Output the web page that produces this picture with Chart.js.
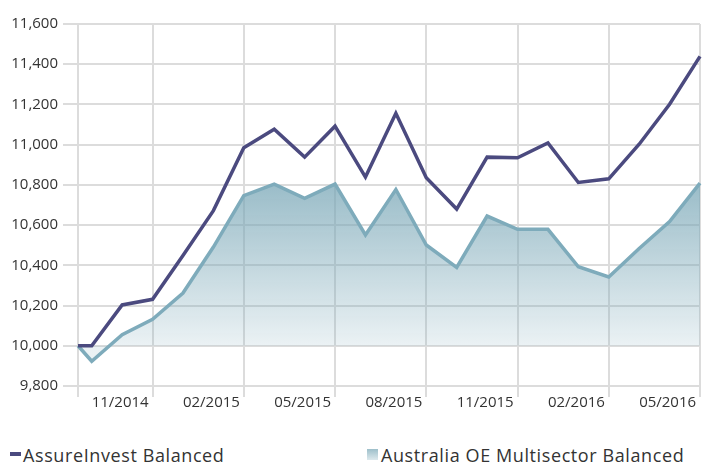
<!DOCTYPE html>
<html>
<head>
<meta charset="utf-8">
<script src="https://cdn.jsdelivr.net/npm/chart.js@4.4.1/dist/chart.umd.min.js"></script>
<style>
  body { margin: 0; background: #fff; font-family: 'Open Sans', sans-serif; }
  #wrap { position: relative; width: 702px; height: 463px; }
  #legend { position: absolute; left: 0; top: 443px; width: 702px; font-size: 18px; letter-spacing: 0.6px; color: #333; }
  .item { position: absolute; top: 0; display: flex; align-items: center; white-space: nowrap; }
  .dash { width: 11px; height: 4px; background: #4b4a7f; margin-right: 2px; margin-top: -3px; }
  .box { width: 11px; height: 11px; background: linear-gradient(#9dbfca, #dde9ed); margin-right: 3px; margin-top: -2px; }
</style>
</head>
<body>
<div id="wrap">
  <canvas id="chart" width="702" height="440"></canvas>
  <div id="legend">
    <div class="item" style="left:10px"><span class="dash"></span>AssureInvest Balanced</div>
    <div class="item" style="left:367px"><span class="box"></span>Australia OE Multisector Balanced</div>
  </div>
</div>
<script>
const dates = ['2014-08-17', '2014-08-31', '2014-09-30', '2014-10-31', '2014-11-30', '2014-12-31',
  '2015-01-31', '2015-02-28', '2015-03-31', '2015-04-30', '2015-05-31', '2015-06-30',
  '2015-07-31', '2015-08-31', '2015-09-30', '2015-10-31', '2015-11-30', '2015-12-31',
  '2016-01-31', '2016-02-29', '2016-03-31', '2016-04-30'];
const assureInvest = [10000, 10000, 10203, 10231, 10449, 10672, 10985, 11077, 10938, 11092, 10839,
  11156, 10836, 10680, 10938, 10935, 11009, 10812, 10830, 11002, 11201, 11439];
const multisector = [10000, 9923, 10055, 10132, 10262, 10491, 10747, 10804, 10733, 10804, 10551,
  10777, 10501, 10390, 10645, 10579, 10579, 10393, 10342, 10484, 10618, 10809];
const tickLabels = ['11/2014', '02/2015', '05/2015', '08/2015', '11/2015', '02/2016', '05/2016'];
const yMin = 9800, yMax = 11600, yStep = 200, baseline = 10000;

// months since Jan 2014, with day as a fraction of the month
function monthPos(d) {
  const [y, m, day] = d.split('-').map(Number);
  const dim = new Date(y, m, 0).getDate();
  return (y - 2014) * 12 + (m - 1) + day / dim;
}
function labelPos(l) {
  const [m, y] = l.split('/').map(Number);
  return (y - 2014) * 12 + (m - 1);
}

const xs = dates.map(monthPos);
const tickValues = tickLabels.map(labelPos);
const gridColor = '#dcdcdc';
const textColor = '#333';

const ctx = document.getElementById('chart').getContext('2d');
new Chart(ctx, {
  type: 'line',
  data: {
    datasets: [
      {
        label: 'AssureInvest Balanced',
        data: xs.map((x, i) => ({ x, y: assureInvest[i] })),
        borderColor: '#4b4a7f',
        borderWidth: 3.5,
        pointRadius: 0,
        fill: false,
        clip: false,
      },
      {
        label: 'Australia OE Multisector Balanced',
        data: xs.map((x, i) => ({ x, y: multisector[i] })),
        borderColor: '#7eabbb',
        borderWidth: 3.5,
        pointRadius: 0,
        fill: { value: baseline },
        clip: false,
        backgroundColor: (c) => {
          const { chart } = c;
          if (!chart.chartArea) return 'rgba(120,166,182,0.4)';
          const y = chart.scales.y;
          const g = chart.ctx.createLinearGradient(0, y.getPixelForValue(Math.max(...multisector)), 0, y.getPixelForValue(baseline));
          g.addColorStop(0, 'rgba(120,166,182,0.75)');
          g.addColorStop(1, 'rgba(120,166,182,0.15)');
          return g;
        },
      },
    ],
  },
  options: {
    responsive: false,
    animation: false,
    layout: { padding: { top: 24, right: 2, left: 0, bottom: 0 } },
    scales: {
      x: {
        type: 'linear',
        min: xs[0],
        max: xs[xs.length - 1],
        afterBuildTicks: (axis) => {
          axis.ticks = [xs[0], ...tickValues].map((v) => ({ value: v }));
        },
        afterFit: (axis) => { axis.height = 440 - 386; },
        grid: { color: gridColor, lineWidth: 2, tickLength: 11 },
        border: { color: gridColor, width: 2 },
        ticks: {
          align: 'end',
          padding: -3,
          maxRotation: 0,
          autoSkip: false,
          color: textColor,
          font: { family: 'Open Sans', size: 15 },
          callback: (v) => {
            const i = tickValues.indexOf(v);
            return i < 0 ? '' : tickLabels[i] + ' ';
          },
        },
      },
      y: {
        min: yMin,
        max: yMax,
        afterFit: (axis) => { axis.width = 78; },
        grid: { color: gridColor, lineWidth: 2, tickLength: 15 },
        border: { color: gridColor, width: 2 },
        ticks: {
          stepSize: yStep,
          padding: 5,
          color: textColor,
          font: { family: 'Open Sans', size: 15 },
          callback: (v) => v.toLocaleString('en-US'),
        },
      },
    },
    plugins: {
      legend: { display: false },
      tooltip: { enabled: false },
    },
  },
});
</script>
</body>
</html>
